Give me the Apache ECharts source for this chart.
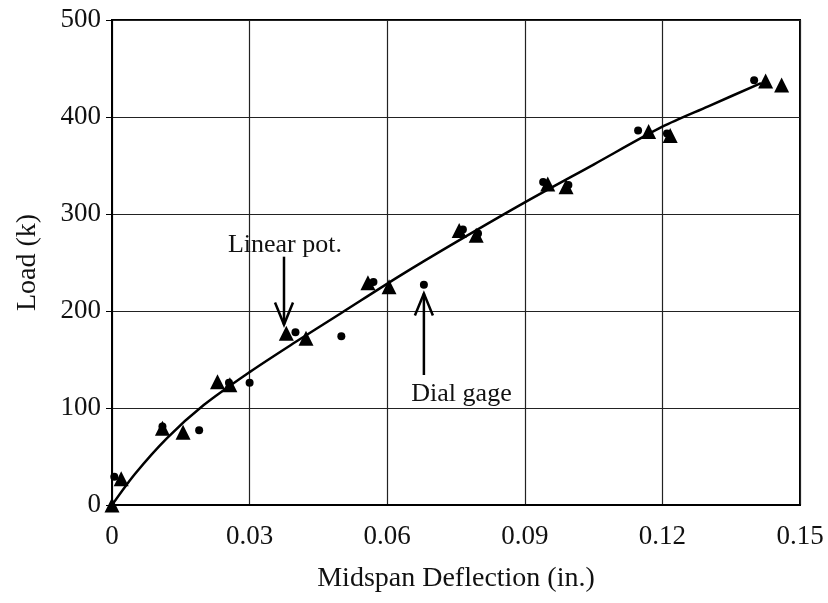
<!DOCTYPE html>
<html>
<head>
<meta charset="utf-8">
<script src="https://cdn.jsdelivr.net/npm/echarts@6/dist/echarts.min.js"></script>
<style>
  html, body { margin: 0; padding: 0; background: #fff; }
  #chart { width: 828px; height: 603px; }
</style>
</head>
<body>
<div id="chart"></div>
<script>
// Load vs. midspan deflection: linear potentiometer and dial gage readings
const linearPot = [
  [0, 0], [0.002, 27], [0.011, 79], [0.0155, 75], [0.023, 127], [0.0257, 124],
  [0.038, 177], [0.0423, 172], [0.0558, 229], [0.0604, 225], [0.0757, 283],
  [0.0794, 278], [0.095, 331], [0.099, 328], [0.117, 385], [0.1217, 381],
  [0.1425, 437], [0.146, 433]
];
const dialGage = [
  [0.0005, 29], [0.011, 81], [0.019, 77], [0.0255, 126], [0.030, 126],
  [0.040, 178], [0.050, 174], [0.057, 230], [0.068, 227], [0.0765, 284],
  [0.0798, 280], [0.094, 333], [0.0995, 330], [0.1147, 386], [0.121, 383],
  [0.140, 438]
];
// Fitted response curve
const fitCurve = [
  [0, 0], [0.005, 32], [0.012, 69], [0.02, 103], [0.03, 137], [0.04, 168],
  [0.05, 198], [0.063, 237], [0.075, 271], [0.09, 312], [0.105, 351],
  [0.12, 390], [0.13, 411], [0.1415, 435]
];
const xTicks = [0, 0.03, 0.06, 0.09, 0.12, 0.15];
const yTicks = [0, 100, 200, 300, 400, 500];

// Annotation labels and their arrows (tail → tip), in data space
const annotations = [
  { text: 'Linear pot.', label: [0.0377, 268], tail: [0.0375, 256], tip: [0.0375, 186], dir: 'down' },
  { text: 'Dial gage', label: [0.0762, 114], tail: [0.068, 134], tip: [0.068, 218], dir: 'up' }
];

const FONT = '"Liberation Serif", "Times New Roman", serif';
const chart = echarts.init(document.getElementById('chart'));

chart.setOption({
  animation: false,
  backgroundColor: '#fff',
  grid: {
    left: 112, right: 28, top: 20, bottom: 98,
    show: true, borderColor: '#000', borderWidth: 2, backgroundColor: 'transparent'
  },
  xAxis: {
    type: 'value', min: xTicks[0], max: xTicks[xTicks.length - 1], interval: 0.03,
    name: 'Midspan Deflection (in.)', nameLocation: 'middle', nameGap: 60,
    nameTextStyle: { fontFamily: FONT, fontSize: 28, color: '#111' },
    axisLine: { show: true, lineStyle: { color: '#000', width: 2 } },
    axisTick: { show: false },
    axisLabel: {
      fontFamily: FONT, fontSize: 27, color: '#111', margin: 18,
      formatter: v => String(+v.toFixed(2))
    },
    splitLine: { show: true, lineStyle: { color: '#222', width: 1.2 } }
  },
  yAxis: {
    type: 'value', min: yTicks[0], max: yTicks[yTicks.length - 1], interval: 100,
    name: 'Load (k)', nameLocation: 'middle', nameGap: 70, nameRotate: 90,
    nameTextStyle: { fontFamily: FONT, fontSize: 28, color: '#111' },
    axisLine: { show: true, lineStyle: { color: '#000', width: 2 } },
    axisTick: { show: true, length: 6, lineStyle: { color: '#000', width: 1 } },
    axisLabel: { fontFamily: FONT, fontSize: 27, color: '#111', margin: 11 },
    splitLine: { show: true, lineStyle: { color: '#222', width: 1.2 } }
  },
  series: [
    {
      name: 'Fit', type: 'line', data: fitCurve, smooth: 0.3,
      showSymbol: false, lineStyle: { color: '#000', width: 2.5 }, z: 2
    },
    {
      name: 'Dial gage', type: 'scatter', data: dialGage, symbol: 'circle', symbolSize: 8,
      itemStyle: { color: '#000', opacity: 1 }, z: 3
    },
    {
      name: 'Linear pot.', type: 'scatter', data: linearPot, symbol: 'triangle', symbolSize: 15,
      itemStyle: { color: '#000', opacity: 1 }, z: 4
    }
  ]
});

// Arrow annotations placed from data coordinates
const graphics = [];
annotations.forEach(a => {
  const lp = chart.convertToPixel({ gridIndex: 0 }, a.label);
  const tail = chart.convertToPixel({ gridIndex: 0 }, a.tail);
  const tip = chart.convertToPixel({ gridIndex: 0 }, a.tip);
  graphics.push({
    type: 'text', x: lp[0], y: lp[1], z: 10,
    style: { text: a.text, font: '26px ' + FONT, fill: '#111', align: 'center', verticalAlign: 'middle' }
  });
  graphics.push({
    type: 'line', z: 10,
    shape: { x1: tail[0], y1: tail[1], x2: tip[0], y2: tip[1] },
    style: { stroke: '#000', lineWidth: 2.5 }
  });
  const s = a.dir === 'down' ? -1 : 1;
  graphics.push({
    type: 'polyline', z: 10,
    shape: { points: [[tip[0] - 9, tip[1] + s * 22], [tip[0], tip[1]], [tip[0] + 9, tip[1] + s * 22]] },
    style: { stroke: '#000', lineWidth: 2.5, fill: null }
  });
});
chart.setOption({ graphic: graphics });
</script>
</body>
</html>
